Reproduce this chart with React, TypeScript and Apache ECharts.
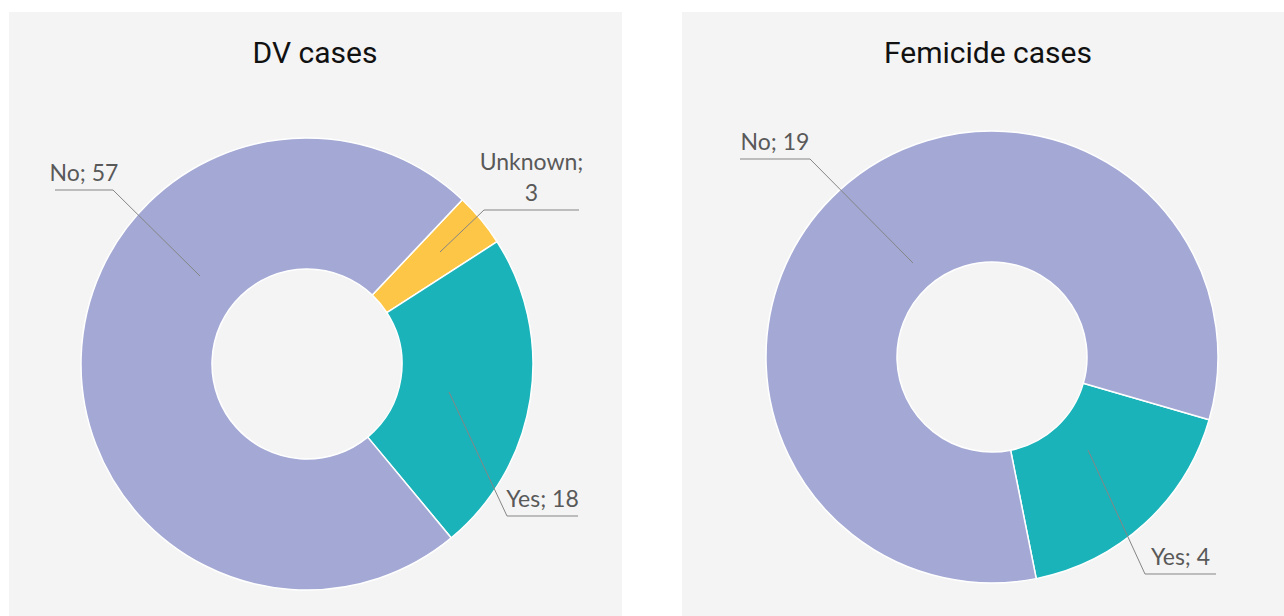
import React, { useEffect, useRef } from "react";
import * as echarts from "echarts";

// ---- data ----
const dvCategories = ["Unknown", "Yes", "No"];
const dvValues = [3, 18, 57];
const femCategories = ["Yes", "No"];
const femValues = [4, 19];
const titles = ["DV cases", "Femicide cases"];

// ---- styling / layout ----
const COLORS: Record<string, string> = {
  No: "#a3a9d4",
  Unknown: "#fec646",
  Yes: "#1bb3ba",
};
const PANEL_BG = "#f4f4f4";
const LABEL_FONT = "Lato, 'Noto Sans', sans-serif";
const TITLE_FONT = "Roboto, 'Noto Sans', sans-serif";
const RADIUS = [95, 226];

type Pt = [number, number];
type LabelGeom = { start: Pt; elbow: Pt; end: Pt };

// leader-line geometry per slice (index-aligned with the data arrays)
const dvLabelGeom: LabelGeom[] = [
  { start: [440, 252], elbow: [484, 210], end: [579, 210] },
  { start: [449, 392], elbow: [507, 516], end: [578, 516] },
  { start: [200, 276], elbow: [113, 190], end: [55, 190] },
];
const femLabelGeom: LabelGeom[] = [
  { start: [1088, 450], elbow: [1145, 574], end: [1216, 574] },
  { start: [913, 263], elbow: [810, 159], end: [740, 159] },
];

function baseSeries(names: string[], values: number[], center: Pt, startAngle: number) {
  return {
    type: "pie",
    z: 2,
    center,
    radius: RADIUS,
    startAngle,
    clockwise: true,
    silent: true,
    itemStyle: { borderColor: "#ffffff", borderWidth: 1.5 },
    data: names.map((n, i) => ({
      name: n,
      value: values[i],
      itemStyle: { color: COLORS[n] },
    })),
    label: { show: false },
    labelLine: { show: false },
    emphasis: { disabled: true },
  };
}

// same slices, transparent, drawn above so that leader lines sit over the ring
function labelSeries(
  names: string[],
  values: number[],
  center: Pt,
  startAngle: number,
  geom: LabelGeom[]
) {
  return {
    type: "pie",
    z: 5,
    center,
    radius: RADIUS,
    startAngle,
    clockwise: true,
    silent: true,
    avoidLabelOverlap: false,
    itemStyle: { color: "rgba(0,0,0,0)", borderWidth: 0 },
    data: names.map((n, i) => ({ name: n, value: values[i] })),
    label: {
      show: true,
      position: "outside",
      color: "#595959",
      fontFamily: LABEL_FONT,
      fontSize: 23,
      lineHeight: 31,
      formatter: (p: any) =>
        p.name.length > 6 ? `${p.name};\n${p.value}` : `${p.name}; ${p.value}`,
    },
    labelLine: {
      show: true,
      showAbove: true,
      lineStyle: { color: "#858585", width: 1, opacity: 1 },
    },
    labelLayout: (params: any) => {
      const g = geom[params.dataIndex];
      return {
        x: (g.elbow[0] + g.end[0]) / 2,
        y: g.elbow[1] - 3,
        align: "center",
        verticalAlign: "bottom",
        labelLinePoints: [g.start, g.elbow, g.end],
      };
    },
    emphasis: { disabled: true },
  };
}

export default function App() {
  const ref = useRef<HTMLDivElement>(null);
  useEffect(() => {
    document.body.style.margin = "0";
    if (!ref.current) return;
    const chart = echarts.init(ref.current, undefined, { renderer: "svg" });
    chart.setOption({
      animation: false,
      backgroundColor: "#ffffff",
      graphic: {
        elements: [
          {
            type: "rect",
            z: -10,
            shape: { x: 9, y: 12, width: 613, height: 620 },
            style: { fill: PANEL_BG },
            silent: true,
          },
          {
            type: "rect",
            z: -10,
            shape: { x: 682, y: 12, width: 613, height: 620 },
            style: { fill: PANEL_BG },
            silent: true,
          },
          {
            type: "text",
            x: 315,
            y: 52,
            style: {
              text: titles[0],
              fill: "#111111",
              font: `30px ${TITLE_FONT}`,
              textAlign: "center",
              textVerticalAlign: "middle",
            },
          },
          {
            type: "text",
            x: 988,
            y: 52,
            style: {
              text: titles[1],
              fill: "#111111",
              font: `30px ${TITLE_FONT}`,
              textAlign: "center",
              textVerticalAlign: "middle",
            },
          },
        ],
      },
      series: [
        baseSeries(dvCategories, dvValues, [307, 364], 46.6),
        baseSeries(femCategories, femValues, [992, 357], -16.1),
        labelSeries(dvCategories, dvValues, [307, 364], 46.6, dvLabelGeom),
        labelSeries(femCategories, femValues, [992, 357], -16.1, femLabelGeom),
      ],
    });
    return () => chart.dispose();
  }, []);
  return (
    <div
      ref={ref}
      style={{ position: "absolute", left: 0, top: 0, width: 1284, height: 616 }}
    />
  );
}
